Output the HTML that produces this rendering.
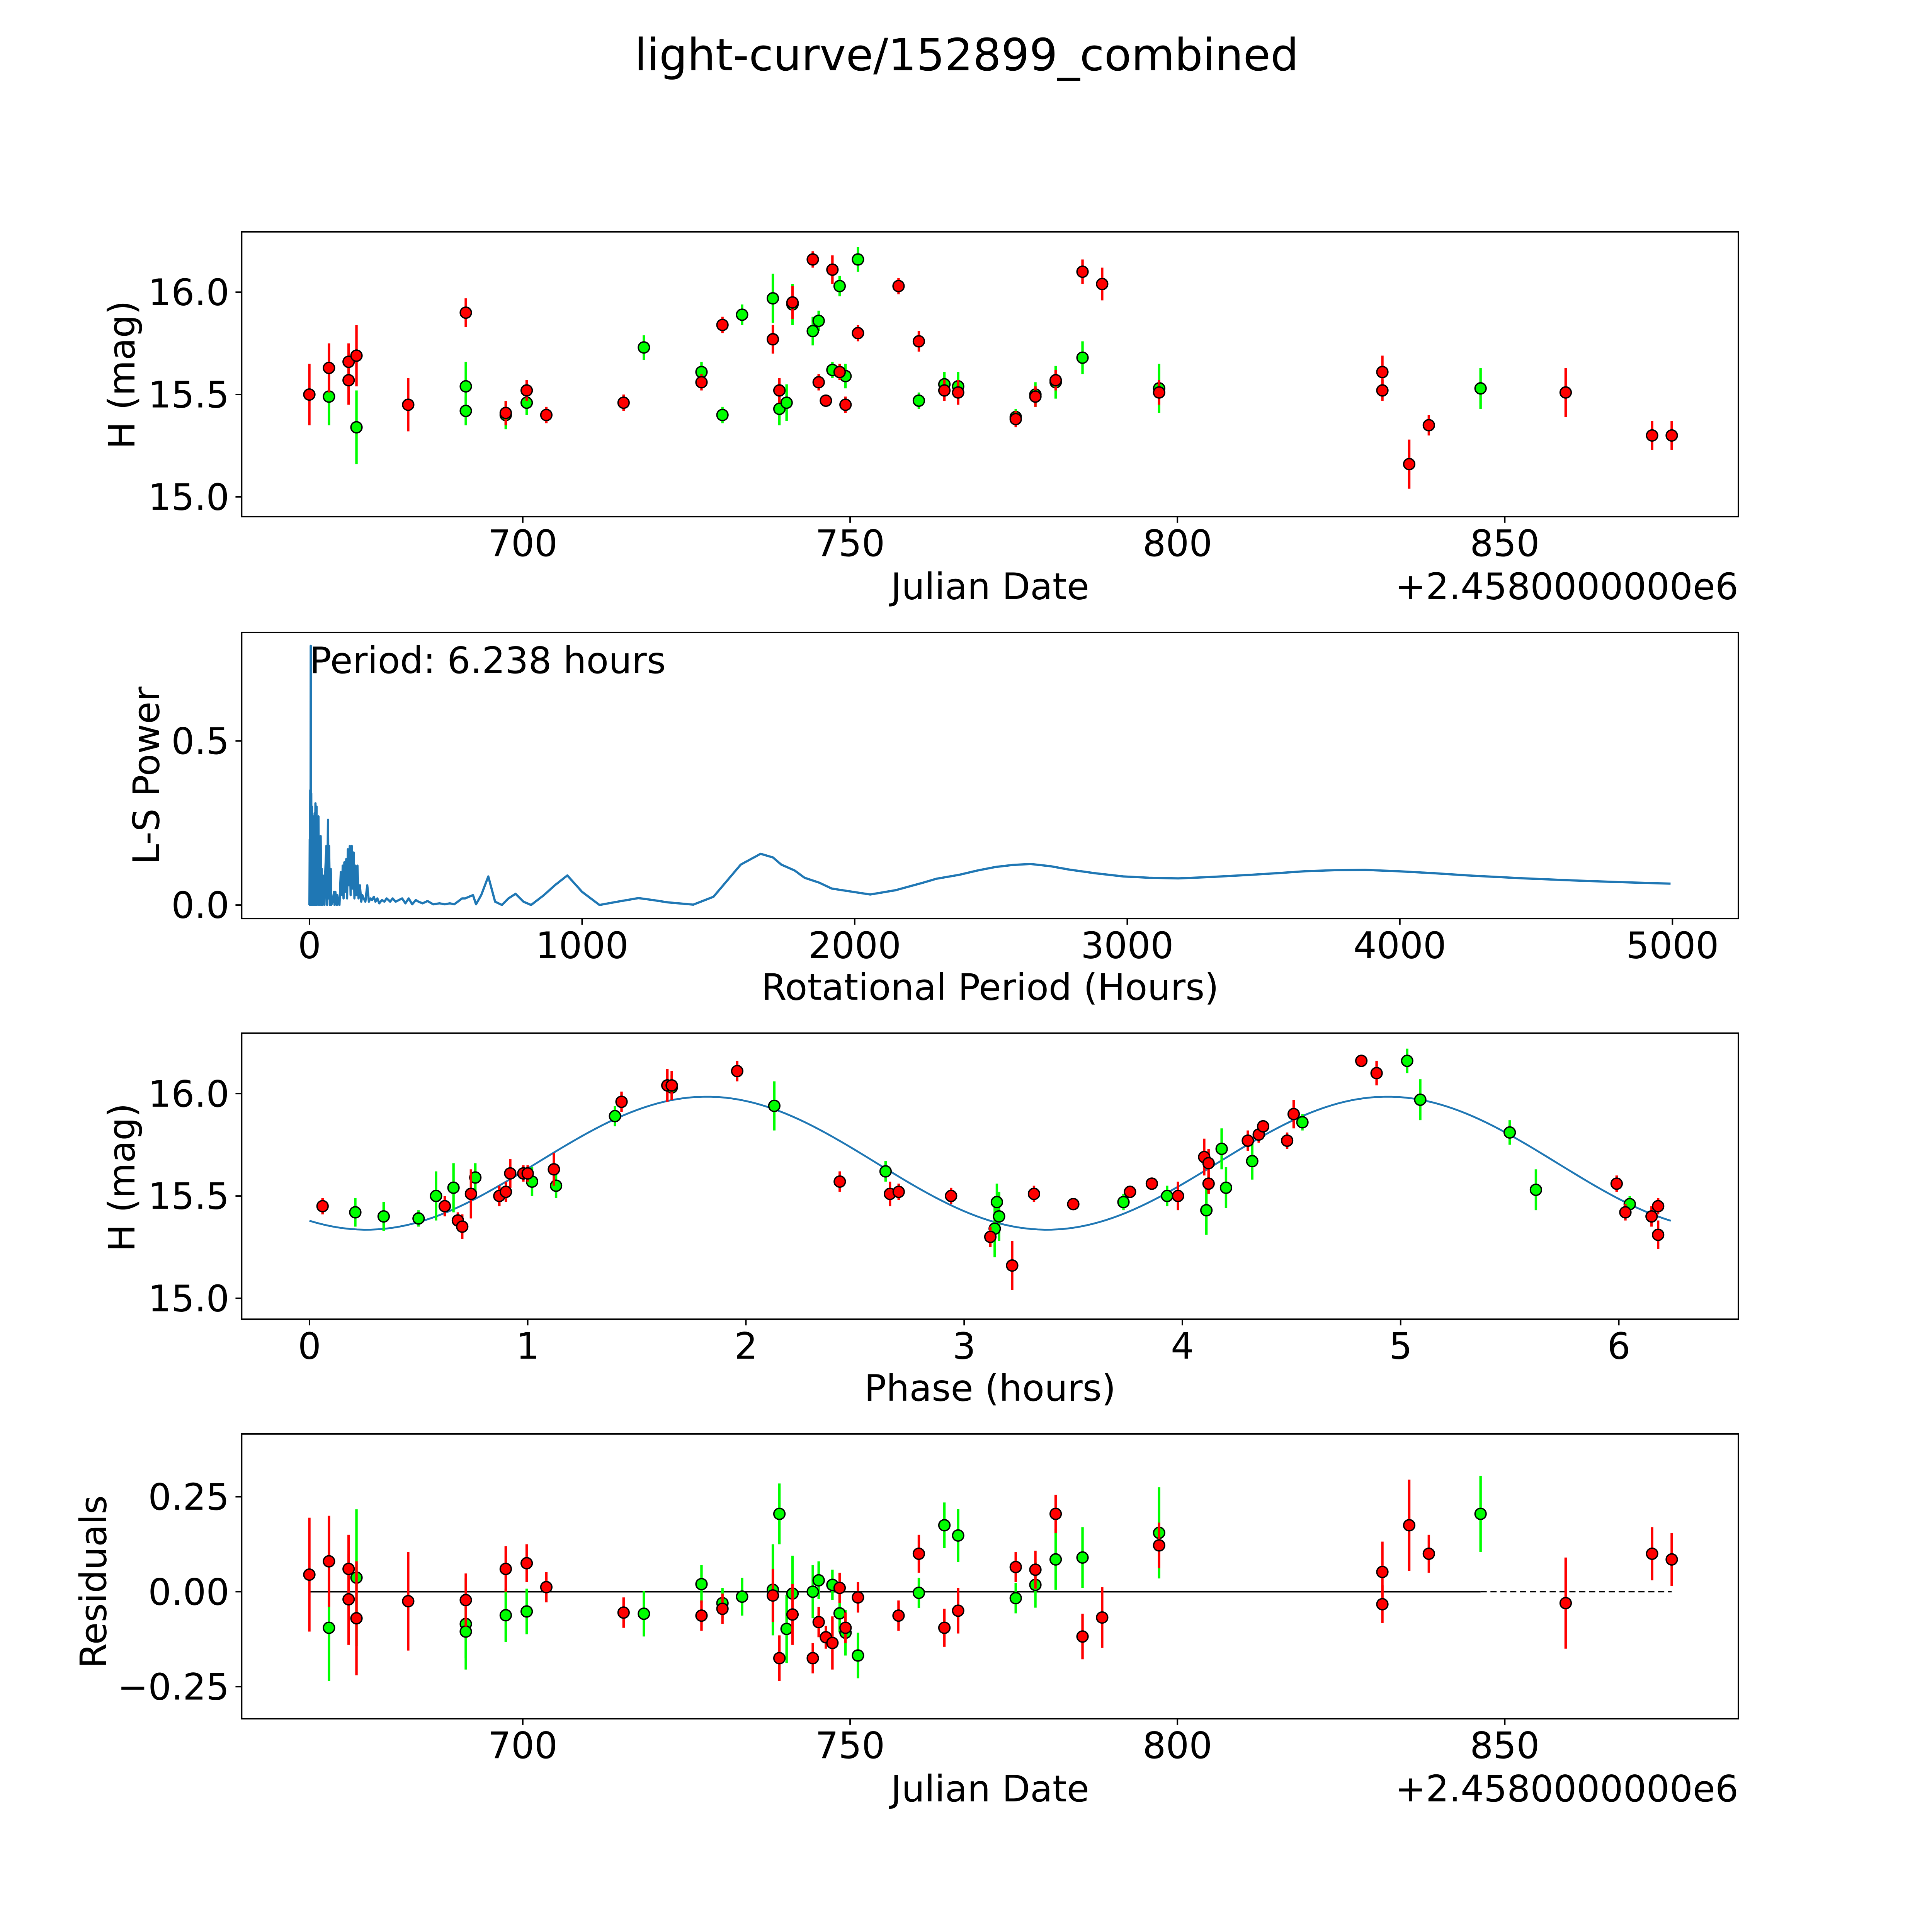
<!DOCTYPE html>
<html><head><meta charset="utf-8"><style>
html,body{margin:0;padding:0;background:#fff;overflow:hidden;width:100%;height:100%;}
svg{display:block;width:100vw;height:100vh;font-family:"DejaVu Sans","Liberation Sans",sans-serif;}
</style></head><body>
<svg id="fig" xmlns="http://www.w3.org/2000/svg" viewBox="0 0 1567 1567" preserveAspectRatio="none">
<rect x="0" y="0" width="1567" height="1567" fill="#fff"/>
<text x="784" y="57" font-size="36" text-anchor="middle">light-curve/152899_combined</text>
</svg>
<script>
// ---------- data ----------
const redJD=[667.4,670.4,673.4,673.4,674.6,682.5,691.3,697.4,700.6,703.6,715.4,727.3,730.5,738.2,739.2,741.2,744.3,745.2,746.3,747.3,748.4,749.3,751.2,757.4,760.5,764.4,766.5,775.3,778.3,781.4,785.5,788.5,797.2,831.3,831.3,835.4,838.4,859.3,872.5,875.5];
const redMag=[15.50,15.63,15.66,15.57,15.69,15.45,15.90,15.41,15.52,15.40,15.46,15.56,15.84,15.77,15.52,15.95,16.16,15.56,15.47,16.11,15.61,15.45,15.80,16.03,15.76,15.52,15.51,15.38,15.49,15.57,16.10,16.04,15.51,15.61,15.52,15.16,15.35,15.51,15.30,15.30];
const redErr=[0.15,0.12,0.09,0.12,0.15,0.13,0.07,0.06,0.05,0.04,0.04,0.04,0.04,0.07,0.06,0.08,0.04,0.04,0.03,0.07,0.04,0.04,0.04,0.04,0.05,0.05,0.06,0.04,0.05,0.05,0.06,0.08,0.06,0.08,0.05,0.12,0.05,0.12,0.07,0.07];
const redResid=[0.045,0.08,0.06,-0.02,-0.07,-0.025,-0.022,0.06,0.075,0.012,-0.055,-0.063,-0.045,-0.01,-0.175,-0.06,-0.175,-0.08,-0.12,-0.135,0.01,-0.095,-0.015,-0.063,0.1,-0.095,-0.05,0.065,0.058,0.205,-0.118,-0.068,0.122,0.052,-0.033,0.175,0.1,-0.03,0.1,0.085];

const greenJD=[670.4,674.6,691.3,691.3,697.4,700.6,718.5,727.3,730.5,733.5,738.2,739.2,740.3,741.2,744.3,745.2,747.3,748.4,749.3,751.2,760.5,764.4,766.5,775.3,778.3,781.4,785.5,797.2,846.3];
const greenMag=[15.49,15.34,15.54,15.42,15.40,15.46,15.73,15.61,15.40,15.89,15.97,15.43,15.46,15.94,15.81,15.86,15.62,16.03,15.59,16.16,15.47,15.55,15.54,15.39,15.50,15.56,15.68,15.53,15.53];
const greenErr=[0.14,0.18,0.12,0.07,0.07,0.06,0.06,0.05,0.04,0.05,0.12,0.08,0.09,0.10,0.07,0.05,0.04,0.05,0.06,0.06,0.04,0.06,0.07,0.04,0.06,0.08,0.08,0.12,0.10];
const greenResid=[-0.095,0.037,-0.085,-0.105,-0.062,-0.052,-0.058,0.02,-0.03,-0.013,0.005,0.205,-0.098,-0.005,0.0,0.03,0.018,-0.057,-0.108,-0.168,-0.003,0.175,0.148,-0.017,0.018,0.085,0.09,0.155,0.205];

const periodHours=[0,1,2,3,4,4.7,5.5,6.5,8,9,10,12,13,15,17,19,20,22,24,26,27,29,31,33,35,37,39,41,43,45,47,49,52,55,58,62,65,68,70,72,75,78,80,85,90,92,95,100,102,105,110,115,120,122,125,128,131,135,138,141,145,148,151,155,158,162,165,168,172,176,180,185,190,194,199,205,212,218,224,230,236,242,249,256,266,275,283,290,296,305,316,328,340,352,364,377,390,400,415,433,454,477,497,515,531,544,560,571,585,600,611,630,656,681,706,730,756,785,813,860,900,946,1000,1064,1130,1207,1260,1314,1408,1482,1582,1655,1700,1731,1780,1816,1870,1916,2057,2150,2251,2300,2384,2450,2518,2580,2645,2720,2786,2880,2986,3080,3187,3300,3454,3550,3655,3760,3872,3990,4123,4250,4458,4600,4792,4993];
const periodPower=[0,0.2,0,0.35,0.05,0.79,0.1,0.34,0,0.3,0.02,0.26,0,0.27,0.05,0.28,0,0.31,0.03,0.3,0,0.2,0.02,0.27,0,0.2,0.01,0.21,0,0.11,0,0.09,0.03,0,0.1,0.18,0,0.26,0.02,0.18,0,0.11,0,0.01,0.04,0,0.04,0,0.03,0.01,0,0.1,0.03,0.12,0.02,0.13,0.04,0.14,0.02,0.17,0.06,0.18,0.03,0.18,0.05,0.16,0.02,0.12,0.03,0.12,0.02,0.06,0.01,0.03,0.02,0.01,0.06,0.01,0.02,0.015,0.025,0.01,0.02,0.005,0.015,0.01,0.02,0.015,0.01,0.02,0.01,0.015,0.02,0.005,0.02,0.002,0.015,0.01,0.005,0.012,0.002,0.005,0.002,0.005,0.002,0.01,0.02,0.02,0.025,0.03,0.002,0.03,0.087,0.01,0,0.02,0.034,0.01,0,0.03,0.06,0.09,0.04,0,0.01,0.021,0.015,0.008,0.001,0.025,0.123,0.156,0.145,0.123,0.105,0.083,0.068,0.05,0.032,0.045,0.068,0.08,0.092,0.105,0.116,0.122,0.125,0.118,0.108,0.097,0.087,0.083,0.081,0.085,0.092,0.097,0.103,0.106,0.107,0.103,0.097,0.09,0.081,0.076,0.07,0.065];

const phaseRed=[0.06,0.62,0.68,0.70,0.74,0.87,0.90,0.92,0.98,1.00,1.12,1.43,1.64,1.66,1.96,2.43,2.66,2.70,2.94,3.12,3.22,3.32,3.50,3.76,3.86,3.98,4.10,4.12,4.12,4.30,4.35,4.37,4.48,4.51,4.82,4.89,5.99,6.03,6.15,6.18,6.18];
const phaseRedMag=[15.45,15.45,15.38,15.35,15.51,15.50,15.52,15.61,15.61,15.61,15.63,15.96,16.04,16.04,16.11,15.57,15.51,15.52,15.50,15.30,15.16,15.51,15.46,15.52,15.56,15.50,15.69,15.66,15.56,15.77,15.80,15.84,15.77,15.90,16.16,16.10,15.56,15.42,15.40,15.45,15.31];
const phaseRedErr=[0.04,0.05,0.04,0.06,0.12,0.05,0.05,0.07,0.04,0.04,0.08,0.05,0.08,0.07,0.05,0.05,0.06,0.04,0.04,0.05,0.12,0.04,0.03,0.03,0.03,0.07,0.09,0.07,0.05,0.05,0.04,0.03,0.04,0.07,0.03,0.06,0.04,0.04,0.05,0.04,0.07];
const phaseGreen=[0.21,0.34,0.50,0.58,0.66,0.76,1.02,1.13,1.40,1.66,2.13,2.64,3.14,3.15,3.16,3.73,3.93,4.11,4.18,4.20,4.32,4.55,5.03,5.09,5.50,5.62,6.05];
const phaseGreenMag=[15.42,15.40,15.39,15.50,15.54,15.59,15.57,15.55,15.89,16.03,15.94,15.62,15.34,15.47,15.40,15.47,15.50,15.43,15.73,15.54,15.67,15.86,16.16,15.97,15.81,15.53,15.46];
const phaseGreenErr=[0.07,0.07,0.04,0.12,0.12,0.07,0.07,0.06,0.05,0.06,0.12,0.05,0.14,0.09,0.12,0.04,0.05,0.12,0.10,0.10,0.09,0.04,0.06,0.10,0.06,0.10,0.04];

const fitPeriod=6.238, fitMean=15.66, fitAmp=0.325, fitPeak=1.82;

const jdTicks=[700,750,800,850];
const magTicks=[15.0,15.5,16.0];
const magTickLabels=["15.0","15.5","16.0"];
const powerTicks=[0,0.5];
const powerTickLabels=["0.0","0.5"];
const periodTicks=[0,1000,2000,3000,4000,5000];
const phaseTicks=[0,1,2,3,4,5,6];
const residTicks=[-0.25,0,0.25];
const residTickLabels=["\u22120.25","0.00","0.25"];

// ---------- axes ----------
const X0=196, X1=1410;
const jdX=v=>424+(v-700)*5.31;
const magY1=v=>237+(16-v)*166;
const perX=v=>251+v*0.2211;
const powY=v=>734-v*266;
const phX=v=>251+v*177;
const magY3=v=>887+(16-v)*166;
const resY=v=>1291-v*308;

const svg=document.getElementById('fig');
const NS="http://www.w3.org/2000/svg";
function mk(tag,attrs,parent){const e=document.createElementNS(NS,tag);for(const k in attrs)e.setAttribute(k,attrs[k]);(parent||svg).appendChild(e);return e;}

function panel(name){
  const g=mk('g',{});
  
  
  return g;
}
function frame(g,top,bottom){
  const r=mk('rect',{x:X0,y:top,width:X1-X0,height:bottom-top,fill:'none',stroke:'#000','stroke-width':1.2},g);
  
  
}
function xticks(g,bottom,vals,fx,labels){
  vals.forEach((v,i)=>{
    const x=fx(v);
    mk('line',{x1:x,x2:x,y1:bottom,y2:bottom+5,stroke:'#000','stroke-width':1.2},g);
    const t=mk('text',{x:x,y:bottom+32,'font-size':29.6,'text-anchor':'middle'},g);
    t.textContent=labels?labels[i]:String(v);
    
    
  });
}
function yticks(g,vals,fy,labels){
  vals.forEach((v,i)=>{
    const y=fy(v);
    mk('line',{x1:X0-5,x2:X0,y1:y,y2:y,stroke:'#000','stroke-width':1.2},g);
    const t=mk('text',{x:X0-10,y:y+10.5,'font-size':29.6,'text-anchor':'end'},g);
    t.textContent=labels[i];
    
    
  });
}
function label(g,txt,x,y,rot,name,anchor){
  const t=mk('text',{x:x,y:y,'font-size':29.6,'text-anchor':anchor||'middle'},g);
  if(rot)t.setAttribute('transform','rotate(-90 '+x+' '+y+')');
  t.textContent=txt;
  
  
}
function points(g,xs,ys,es,fx,fy,escale,color,name){
  xs.forEach((xv,i)=>{
    const x=fx(xv), y=fy(ys[i]), e=es[i]*escale;
    mk('line',{x1:x,x2:x,y1:y-e,y2:y+e,stroke:color,'stroke-width':2},g);
  });
  xs.forEach((xv,i)=>{
    const c=mk('circle',{cx:fx(xv),cy:fy(ys[i]),r:4.5,fill:color,stroke:'#000','stroke-width':1.1},g);
    
    
  });
}

// Panel 1: light curve
let g1=panel('light-curve-panel');
points(g1,greenJD,greenMag,greenErr,jdX,magY1,166,'#00ff00','green-point');
points(g1,redJD,redMag,redErr,jdX,magY1,166,'#ff0000','red-point');
frame(g1,188,419);
xticks(g1,419,jdTicks,jdX);
yticks(g1,magTicks,magY1,magTickLabels);
label(g1,'Julian Date',803,486,false,'x-axis-title');
label(g1,'+2.4580000000e6',1410,486,false,'x-offset-text','end');
label(g1,'H (mag)',109,304,true,'y-axis-title');

// Panel 2: periodogram
let g2=panel('periodogram-panel');
let d='';
periodHours.forEach((h,i)=>{d+=(i?'L':'M')+perX(h).toFixed(2)+' '+powY(periodPower[i]).toFixed(2)+' ';});
const pl=mk('path',{d:d,fill:'none',stroke:'#1f77b4','stroke-width':1.8,'stroke-linejoin':'round'},g2);


frame(g2,513,745);
xticks(g2,745,periodTicks,perX);
yticks(g2,powerTicks,powY,powerTickLabels);
label(g2,'Rotational Period (Hours)',803,811,false,'x-axis-title');
label(g2,'L-S Power',129,629,true,'y-axis-title');
label(g2,'Period: 6.238 hours',251,546,false,'period-annotation','start');

// Panel 3: phased curve
let g3=panel('phased-curve-panel');
let d3='';
for(let i=0;i<=200;i++){const p=fitPeriod*i/200;const m=fitMean+fitAmp*Math.cos(2*Math.PI*(p-fitPeak)/(fitPeriod/2));d3+=(i?'L':'M')+phX(p).toFixed(2)+' '+magY3(m).toFixed(2)+' ';}
const fl=mk('path',{d:d3,fill:'none',stroke:'#1f77b4','stroke-width':1.5},g3);


points(g3,phaseGreen,phaseGreenMag,phaseGreenErr,phX,magY3,166,'#00ff00','green-point');
points(g3,phaseRed,phaseRedMag,phaseRedErr,phX,magY3,166,'#ff0000','red-point');
frame(g3,838,1070);
xticks(g3,1070,phaseTicks,phX);
yticks(g3,magTicks,magY3,magTickLabels);
label(g3,'Phase (hours)',803,1136,false,'x-axis-title');
label(g3,'H (mag)',109,955,true,'y-axis-title');

// Panel 4: residuals
let g4=panel('residuals-panel');
const jMin=Math.min(...redJD,...greenJD), jLastG=Math.max(...greenJD), jMax=Math.max(...redJD);
const z1=mk('line',{x1:jdX(jMin),x2:jdX(jLastG),y1:resY(0),y2:resY(0),stroke:'#000','stroke-width':1.3},g4);


const z2=mk('line',{x1:jdX(jLastG),x2:jdX(jMax),y1:resY(0),y2:resY(0),stroke:'#000','stroke-width':1.1,'stroke-dasharray':'5 3'},g4);


points(g4,greenJD,greenResid,greenErr,jdX,resY,308,'#00ff00','green-residual');
points(g4,redJD,redResid,redErr,jdX,resY,308,'#ff0000','red-residual');
frame(g4,1163,1394);
xticks(g4,1394,jdTicks,jdX);
yticks(g4,residTicks,resY,residTickLabels);
label(g4,'Julian Date',803,1461,false,'x-axis-title');
label(g4,'+2.4580000000e6',1410,1461,false,'x-offset-text','end');
label(g4,'Residuals',86,1283,true,'y-axis-title');
</script>
</body></html>
